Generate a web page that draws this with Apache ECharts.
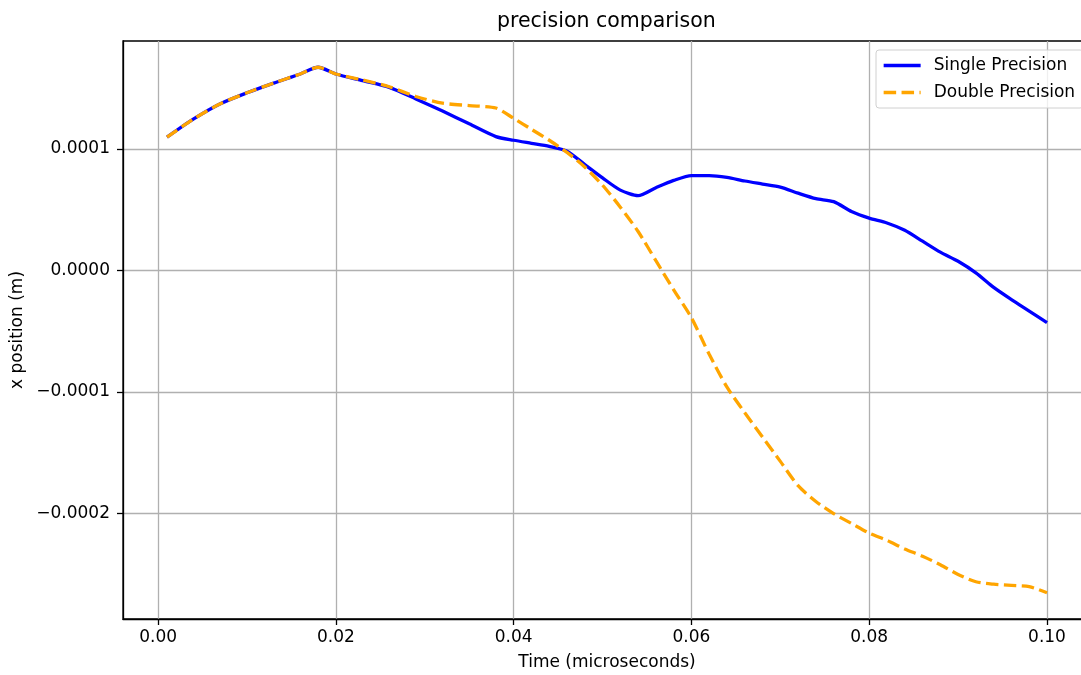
<!DOCTYPE html>
<html>
<head>
<meta charset="utf-8">
<title>precision comparison</title>
<script src="https://cdn.jsdelivr.net/npm/echarts@6/dist/echarts.min.js"></script>
<style>
  html, body { margin: 0; padding: 0; background: #ffffff; }
  #chart { width: 1081px; height: 675px; }
</style>
</head>
<body>
<div id="chart"></div>
<script>
// Sample times (microseconds)
const times = [
  0.001, 0.004, 0.007, 0.010, 0.013, 0.016, 0.018, 0.020, 0.023, 0.026,
  0.029, 0.032, 0.035, 0.038, 0.040, 0.042, 0.044, 0.046, 0.048, 0.050,
  0.052, 0.054, 0.056, 0.058, 0.060, 0.062, 0.064, 0.066, 0.068, 0.070,
  0.072, 0.074, 0.076, 0.078, 0.080, 0.082, 0.084, 0.086, 0.088, 0.090,
  0.092, 0.094, 0.096, 0.098, 0.100
];

// x position (m), single precision run
const singlePrecision = [
  1.095e-4, 1.245e-4, 1.370e-4, 1.460e-4, 1.540e-4, 1.615e-4, 1.670e-4, 1.615e-4, 1.560e-4, 1.505e-4,
  1.410e-4, 1.310e-4, 1.205e-4, 1.100e-4, 1.070e-4, 1.045e-4, 1.020e-4, 0.980e-4, 0.870e-4, 0.760e-4,
  0.660e-4, 0.615e-4, 0.680e-4, 0.740e-4, 0.780e-4, 0.780e-4, 0.765e-4, 0.735e-4, 0.710e-4, 0.685e-4,
  0.635e-4, 0.590e-4, 0.565e-4, 0.485e-4, 0.430e-4, 0.390e-4, 0.330e-4, 0.240e-4, 0.150e-4, 0.075e-4,
  -0.020e-4, -0.140e-4, -0.240e-4, -0.335e-4, -0.430e-4
];

// x position (m), double precision run
const doublePrecision = [
  1.095e-4, 1.245e-4, 1.370e-4, 1.460e-4, 1.540e-4, 1.615e-4, 1.670e-4, 1.615e-4, 1.565e-4, 1.510e-4,
  1.430e-4, 1.375e-4, 1.355e-4, 1.335e-4, 1.250e-4, 1.160e-4, 1.070e-4, 0.970e-4, 0.850e-4, 0.700e-4,
  0.520e-4, 0.320e-4, 0.080e-4, -0.160e-4, -0.390e-4, -0.690e-4, -0.960e-4, -1.170e-4, -1.370e-4, -1.570e-4,
  -1.770e-4, -1.900e-4, -2.000e-4, -2.080e-4, -2.160e-4, -2.220e-4, -2.290e-4, -2.350e-4, -2.420e-4, -2.500e-4,
  -2.560e-4, -2.580e-4, -2.590e-4, -2.600e-4, -2.650e-4
];

const xTicks = [0.00, 0.02, 0.04, 0.06, 0.08, 0.10];
const yTicks = [-0.0002, -0.0001, 0.0000, 0.0001];

const FONT = 'DejaVu Sans';

function pairs(ts, vs) {
  return ts.map((t, i) => [t, vs[i]]);
}

function fmtY(v) {
  const s = Math.abs(v).toFixed(4);
  return (v < -1e-12 ? '\u2212' : '') + s;
}

const chart = echarts.init(document.getElementById('chart'), null, { renderer: 'canvas' });

chart.setOption({
  animation: false,
  backgroundColor: '#ffffff',
  textStyle: { fontFamily: FONT },
  title: {
    text: 'precision comparison',
    left: 497,
    top: 11,
    padding: 0,
    textStyle: { fontFamily: FONT, fontSize: 20.5, fontWeight: 'normal', color: '#000000' }
  },
  legend: {
    orient: 'vertical',
    left: 876,
    top: 50,
    padding: [6, 8, 6, 6],
    itemWidth: 37,
    itemHeight: 14,
    itemGap: 8,
    backgroundColor: 'rgba(255,255,255,0.8)',
    borderColor: '#d0d0d0',
    borderWidth: 1,
    borderRadius: 3,
    // line-only keys: hide the marker drawn in the middle of each key
    itemStyle: { opacity: 0 },
    lineStyle: { width: 3.3 },
    data: ['Single Precision', 'Double Precision'],
    textStyle: { fontFamily: FONT, fontSize: 17, color: '#000000', padding: [0, 0, 0, 8], lineHeight: 19 }
  },
  grid: {
    left: 123,
    top: 41,
    bottom: 56,
    right: -10,
    show: true,
    borderColor: '#000000',
    borderWidth: 1.3,
    containLabel: false,
    outerBoundsMode: 'none'
  },
  xAxis: {
    type: 'value',
    min: -0.00395,
    max: 0.10495,
    splitNumber: 5,
    name: 'Time (microseconds)',
    nameLocation: 'middle',
    nameGap: 35,
    nameMoveOverlap: false,
    nameTextStyle: { fontFamily: FONT, fontSize: 17, color: '#000000' },
    axisLine: { show: true, onZero: false, lineStyle: { color: '#000000', width: 1.3 } },
    axisTick: { show: true, customValues: xTicks, length: 6, lineStyle: { color: '#000000', width: 1.3 } },
    axisLabel: {
      customValues: xTicks,
      margin: 10,
      fontFamily: FONT,
      fontSize: 17,
      color: '#000000',
      formatter: v => v.toFixed(2)
    },
    splitLine: { show: true, lineStyle: { color: '#b0b0b0', width: 1.3 } }
  },
  yAxis: {
    type: 'value',
    min: -2.866e-4,
    max: 1.886e-4,
    splitNumber: 5,
    name: 'x position (m)',
    nameLocation: 'middle',
    nameGap: 97,
    nameMoveOverlap: false,
    nameTextStyle: { fontFamily: FONT, fontSize: 17, color: '#000000' },
    axisLine: { show: true, onZero: false, lineStyle: { color: '#000000', width: 1.3 } },
    axisTick: { show: true, customValues: yTicks, length: 6, lineStyle: { color: '#000000', width: 1.3 } },
    axisLabel: {
      customValues: yTicks,
      margin: 13,
      fontFamily: FONT,
      fontSize: 17,
      color: '#000000',
      formatter: fmtY
    },
    splitLine: { show: true, lineStyle: { color: '#b0b0b0', width: 1.3 } }
  },
  series: [
    {
      name: 'Single Precision',
      type: 'line',
      data: pairs(times, singlePrecision),
      symbol: 'none',
      showSymbol: false,
      smooth: 0.25,
      lineStyle: { color: '#0000ff', width: 3.3 },
      itemStyle: { color: '#0000ff' },
      z: 3
    },
    {
      name: 'Double Precision',
      type: 'line',
      data: pairs(times, doublePrecision),
      symbol: 'none',
      showSymbol: false,
      smooth: 0.25,
      lineStyle: { color: '#ffa500', width: 3.3, type: [12.5, 5.4] },
      itemStyle: { color: '#ffa500' },
      z: 4
    }
  ]
});
</script>
</body>
</html>
